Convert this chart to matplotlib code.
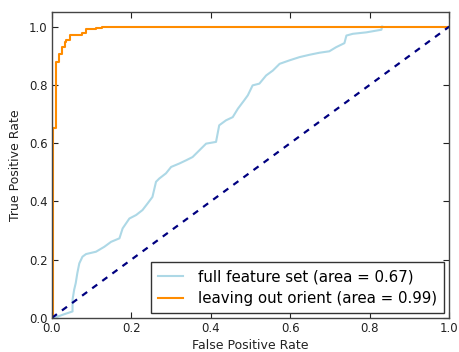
import matplotlib
matplotlib.use("Agg")
import matplotlib.pyplot as plt

plt.rcParams["lines.scale_dashes"] = False

# Data
full_fpr = [0.0, 0.006, 0.03, 0.052, 0.052, 0.056, 0.060, 0.064, 0.069, 0.077, 0.086, 0.111,
            0.132, 0.149, 0.17, 0.178, 0.195, 0.212, 0.228, 0.241, 0.253, 0.262, 0.27,
            0.287, 0.30, 0.321, 0.338, 0.354, 0.371, 0.388, 0.413, 0.421, 0.438, 0.455,
            0.468, 0.484, 0.493, 0.505, 0.522, 0.539, 0.556, 0.573, 0.598, 0.623,
            0.648, 0.673, 0.698, 0.715, 0.736, 0.741, 0.757, 0.791, 0.829, 0.831]
full_tpr = [0.0, 0.0, 0.012, 0.022, 0.062, 0.096, 0.119, 0.153, 0.187, 0.21, 0.219, 0.227,
            0.244, 0.261, 0.273, 0.307, 0.341, 0.353, 0.37, 0.393, 0.415, 0.467, 0.478,
            0.496, 0.518, 0.53, 0.541, 0.552, 0.575, 0.598, 0.604, 0.661, 0.678, 0.689,
            0.718, 0.747, 0.764, 0.798, 0.804, 0.832, 0.849, 0.872, 0.884, 0.895,
            0.903, 0.91, 0.915, 0.929, 0.943, 0.969, 0.975, 0.98, 0.989, 1.0]
full_auc = 0.67

orient_fpr = [0.0, 0.002, 0.002, 0.01, 0.01, 0.018, 0.018, 0.025, 0.025, 0.032, 0.032,
              0.035, 0.035, 0.045, 0.045, 0.077, 0.077, 0.086, 0.086, 0.111, 0.111,
              0.127, 0.127, 1.0]
orient_tpr = [0.0, 0.0, 0.65, 0.65, 0.878, 0.878, 0.907, 0.907, 0.929, 0.929, 0.946,
              0.946, 0.955, 0.955, 0.971, 0.971, 0.978, 0.978, 0.99, 0.99, 0.995,
              0.995, 1.0, 1.0]
orient_auc = 0.99

diag = [0.0, 1.0]
xticks = [0.0, 0.2, 0.4, 0.6, 0.8, 1.0]
yticks = [0.0, 0.2, 0.4, 0.6, 0.8, 1.0]

fig = plt.figure(figsize=(4.59, 3.52), dpi=100, facecolor="white")
ax = fig.add_axes([0.113, 0.097, 0.866, 0.869])
ax.set_facecolor("white")

ax.plot(full_fpr, full_tpr, color="lightblue", lw=1.5,
        label="full feature set (area = %0.2f)" % full_auc)
ax.plot(orient_fpr, orient_tpr, color="darkorange", lw=1.5,
        label="leaving out orient (area = %0.2f)" % orient_auc)
ax.plot(diag, diag, color="navy", lw=1.6, linestyle=(0, (4.5, 4.5)))

ax.set_xlim(0.0, 1.0)
ax.set_ylim(0.0, 1.05)
ax.set_xticks(xticks)
ax.set_yticks(yticks)
ax.set_xticklabels(["%.1f" % t for t in xticks])
ax.set_yticklabels(["%.1f" % t for t in yticks])
ax.tick_params(direction="in", top=True, right=True, length=4, width=0.8,
               labelsize=8.5, colors="#222222", pad=3)
for s in ax.spines.values():
    s.set_color("#444444")
    s.set_linewidth(1.0)

ax.set_xlabel("False Positive Rate", fontsize=9, color="#222222", labelpad=3)
ax.set_ylabel("True Positive Rate", fontsize=9, color="#222222", labelpad=5)

leg = ax.legend(loc="lower right", fontsize=10.8, fancybox=False, framealpha=1,
                edgecolor="#333333", handlelength=1.7, handletextpad=1.0,
                borderpad=0.45, labelspacing=0.45, borderaxespad=0.35)
leg.get_frame().set_linewidth(1.0)

fig.savefig("out.png", dpi=100, facecolor="white")
